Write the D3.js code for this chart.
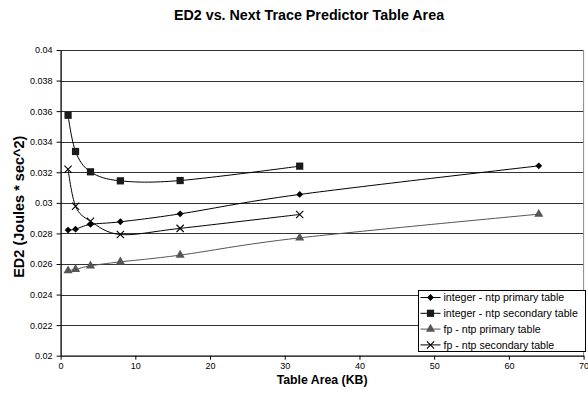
<!DOCTYPE html>
<html>
<head>
<meta charset="utf-8">
<script src="https://cdn.jsdelivr.net/npm/d3@7"></script>
<style>
  body { margin: 0; background: #fff; }
  svg { display: block; font-family: "Liberation Sans", Arial, sans-serif; }
</style>
</head>
<body>
<div id="chart"></div>
<script>
// Table sizes (KB) and ED2 values
const tableSizes = [1, 2, 4, 8, 16, 32, 64];
const intPrimary = [0.02822, 0.02828, 0.02859, 0.02876, 0.02928, 0.03055, 0.03242];
const intSecondary = [0.03573, 0.03336, 0.03203, 0.03144, 0.03146, 0.0324];
const fpPrimary = [0.02556, 0.02565, 0.02588, 0.02614, 0.02658, 0.02771, 0.02926];
const fpSecondary = [0.0322, 0.02978, 0.0288, 0.02793, 0.02833, 0.02924];
const seriesNames = [
  'integer - ntp primary table',
  'integer - ntp secondary table',
  'fp - ntp primary table',
  'fp - ntp secondary table'
];
const xTicks = [0, 10, 20, 30, 40, 50, 60, 70];
const yTicks = [0.02, 0.022, 0.024, 0.026, 0.028, 0.03, 0.032, 0.034, 0.036, 0.038, 0.04];

const width = 588, height = 397;
const margin = { top: 50, left: 60.6, right: 4.4, bottom: 41.3 };
const plotW = width - margin.left - margin.right,
  plotH = height - margin.top - margin.bottom;

const series = [
  { name: seriesNames[0], values: intPrimary, symbol: d3.symbolDiamond2, size: 30, color: '#000', fill: '#000' },
  { name: seriesNames[1], values: intSecondary, symbol: d3.symbolSquare, size: 52, color: '#000', fill: '#1a1a1a' },
  { name: seriesNames[2], values: fpPrimary, symbol: d3.symbolTriangle, size: 36, color: '#555', fill: '#555' },
  { name: seriesNames[3], values: fpSecondary, symbol: d3.symbolX, size: 36, color: '#000', fill: 'none' }
];

const svg = d3.select('#chart').append('svg')
    .attr('width', width)
    .attr('height', height);

const g = svg.append('g')
    .attr('transform', 'translate(' + margin.left + ',' + margin.top + ')');

const xScale = d3.scaleLinear().domain([0, 70]).range([0, plotW]);
const yScale = d3.scaleLinear().domain([0.02, 0.04]).range([plotH, 0]);

// gridlines
g.append('g')
  .selectAll('line')
  .data(yTicks.slice(1))
  .join('line')
    .attr('x1', 0)
    .attr('x2', plotW)
    .attr('y1', d => Math.round(yScale(d)) + 0.5)
    .attr('y2', d => Math.round(yScale(d)) + 0.5)
    .attr('stroke', '#333')
    .attr('stroke-width', 1);

// right border
g.append('line')
    .attr('x1', plotW).attr('x2', plotW)
    .attr('y1', 0).attr('y2', plotH)
    .attr('stroke', '#888');

// Y axis
const yAxis = g.append('g')
    .call(d3.axisLeft(yScale).tickValues(yTicks).tickSize(4).tickSizeOuter(0)
      .tickFormat(d => d3.format('')(+d.toFixed(3))));
yAxis.select('.domain').attr('stroke', '#000').attr('stroke-width', 1.3);
yAxis.selectAll('.tick line').attr('stroke', '#000');
yAxis.selectAll('.tick text')
    .attr('x', -8)
    .style('font-size', '9px')
    .style('font-family', '"Liberation Sans", Arial, sans-serif')
    .attr('fill', '#000');

// X axis
const xAxis = g.append('g')
    .attr('transform', 'translate(0,' + plotH + ')')
    .call(d3.axisBottom(xScale).tickValues(xTicks).tickSize(4).tickSizeOuter(0));
xAxis.select('.domain').attr('stroke', '#000').attr('stroke-width', 1.3);
xAxis.selectAll('.tick line').attr('stroke', '#000');
xAxis.selectAll('.tick text')
    .attr('y', 6.5)
    .style('font-size', '9px')
    .style('font-family', '"Liberation Sans", Arial, sans-serif')
    .attr('fill', '#000');

// lines, smoothed like the spreadsheet's curves
const line = d3.line()
    .x((d, i) => xScale(tableSizes[i]))
    .y(d => yScale(d))
    .curve(d3.curveCardinal.tension(0));

series.forEach(s => {
  g.append('path')
      .datum(s.values)
      .attr('fill', 'none')
      .attr('stroke', s.color)
      .attr('stroke-width', 1)
      .attr('d', line);

  g.append('g')
    .selectAll('path')
    .data(s.values)
    .join('path')
      .attr('transform', (d, i) => 'translate(' + xScale(tableSizes[i]) + ',' + yScale(d) + ')')
      .attr('d', d3.symbol(s.symbol, s.size))
      .attr('fill', s.fill)
      .attr('stroke', s.fill === 'none' ? s.color : 'none')
      .attr('stroke-width', 1.1);
});

// title
svg.append('text')
    .attr('x', 309)
    .attr('y', 20)
    .attr('text-anchor', 'middle')
    .style('font-size', '14.3px')
    .style('font-weight', 'bold')
    .text('ED2 vs. Next Trace Predictor Table Area');

// axis titles
svg.append('text')
    .attr('x', margin.left + plotW / 2)
    .attr('y', 383.5)
    .attr('text-anchor', 'middle')
    .style('font-size', '12.3px')
    .style('font-weight', 'bold')
    .text('Table Area (KB)');

svg.append('text')
    .attr('transform', 'translate(23.5,206.7) rotate(-90)')
    .attr('text-anchor', 'middle')
    .style('font-size', '14.5px')
    .style('font-weight', 'bold')
    .text('ED2 (Joules * sec^2)');

// legend
const legend = svg.append('g').attr('transform', 'translate(418.5,290.5)');
legend.append('rect')
    .attr('width', 167)
    .attr('height', 61)
    .attr('fill', '#fff')
    .attr('stroke', '#000');

const rows = legend.selectAll('g.row')
  .data(series)
  .join('g')
    .attr('class', 'row')
    .attr('transform', (d, i) => 'translate(0,' + (7 + i * 15.8) + ')');

rows.append('line')
    .attr('x1', 2).attr('x2', 22)
    .attr('stroke', d => d.color);
rows.append('path')
    .attr('transform', 'translate(12,0)')
    .attr('d', d => d3.symbol(d.symbol, d.size)())
    .attr('fill', d => d.fill)
    .attr('stroke', d => d.fill === 'none' ? d.color : 'none')
    .attr('stroke-width', 1.1);
rows.append('text')
    .attr('x', 25)
    .attr('dy', '0.35em')
    .style('font-size', '10.6px')
    .text(d => d.name);
</script>
</body>
</html>
